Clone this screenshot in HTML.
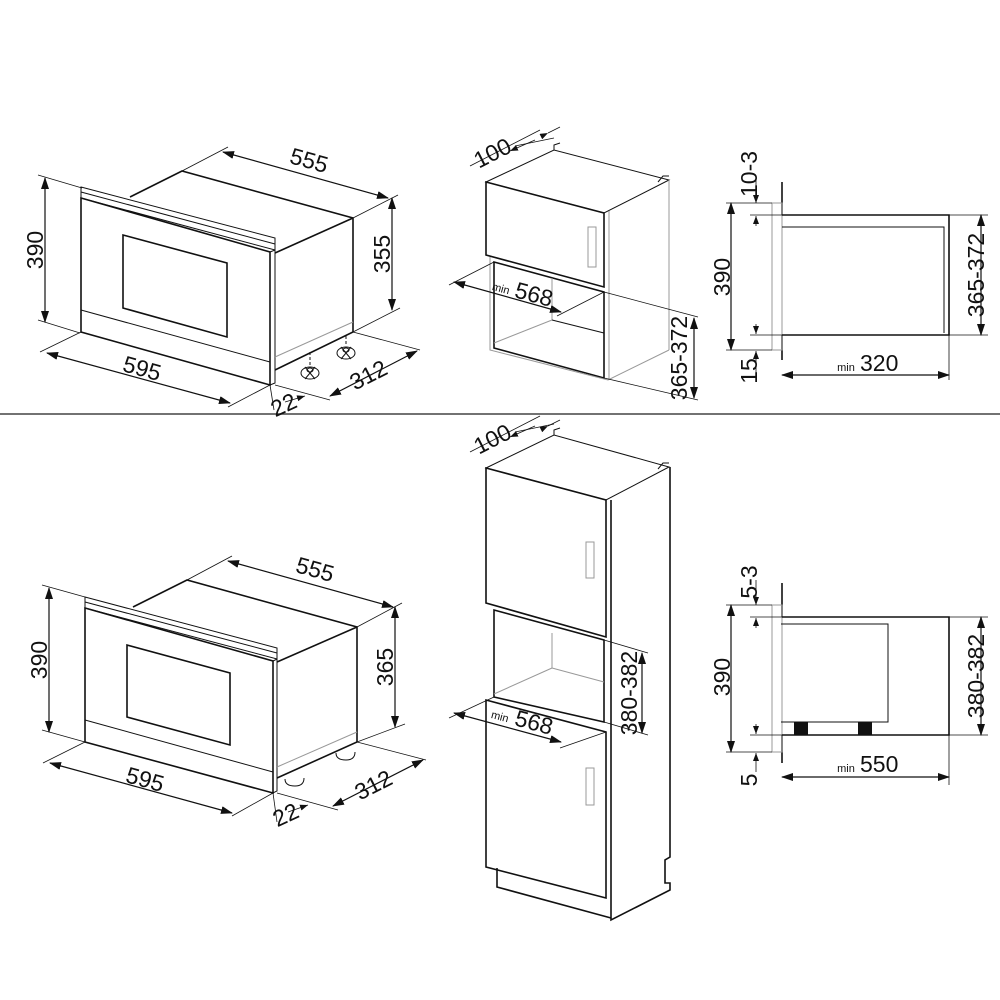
<!DOCTYPE html>
<html><head><meta charset="utf-8"><style>
html,body{margin:0;padding:0;background:#fff}
svg{display:block}
text{font-family:"Liberation Sans",Arial,sans-serif;fill:#111}
.k{stroke:#111;stroke-width:1.6;fill:none}
.t{stroke:#111;stroke-width:1;fill:none}
.g{stroke:#999;stroke-width:1;fill:none}
.d{stroke:#111;stroke-width:1.2;fill:none;marker-start:url(#a);marker-end:url(#a)}
.e{stroke:#111;stroke-width:0.8;fill:none}
.n{font-size:23px}
.m{font-size:11px}
</style></head><body>
<svg width="1000" height="1000" viewBox="0 0 1000 1000" xmlns="http://www.w3.org/2000/svg">
<defs>
<marker id="a" viewBox="0 0 12 8" refX="11" refY="4" markerWidth="12" markerHeight="8" markerUnits="userSpaceOnUse" orient="auto-start-reverse">
<path d="M0,0 L12,4 L0,8 Z" fill="#111"/>
</marker>
<marker id="s" viewBox="0 0 8 6" refX="8" refY="3" markerWidth="8" markerHeight="6" markerUnits="userSpaceOnUse" orient="auto">
<path d="M0,0 L8,3 L0,6 Z" fill="#111"/>
</marker>
</defs>

<line x1="0" y1="414" x2="1000" y2="414" stroke="#444" stroke-width="1.6"/>

<!-- ===== TOP OVEN ===== -->
<polygon points="81,187 275,238 275,250 81,198" fill="#ddd" class="t"/>
<line x1="81" y1="192" x2="275" y2="244" class="t"/>
<polygon points="81,198 270,252 270,385 81,332" class="k"/>
<polygon points="270,252 275,250 275,383 270,385" class="t"/>
<line x1="81" y1="310" x2="270" y2="362" class="t"/>
<polygon points="123,235 227,263 227,337 123,308" class="k"/>
<polyline points="130,197 182,171 353,218 353,332 275,370" class="k"/>
<line x1="275" y1="253" x2="353" y2="218" class="k"/>
<line x1="275" y1="357" x2="353" y2="322" class="g"/>
<g class="t">
<line x1="310" y1="352" x2="310" y2="366" stroke-dasharray="3,2"/>
<ellipse cx="310" cy="373" rx="9" ry="6"/><ellipse cx="310" cy="370" rx="3" ry="2"/>
<path d="M305,379 L315,367 M305,367 L315,379"/>
<line x1="346" y1="336" x2="346" y2="346" stroke-dasharray="3,2"/>
<ellipse cx="346" cy="353" rx="9" ry="6"/><ellipse cx="346" cy="350" rx="3" ry="2"/>
<path d="M341,359 L351,347 M341,347 L351,359"/>
</g>
<line x1="182" y1="171" x2="228" y2="147" class="e"/>
<line x1="353" y1="218" x2="398" y2="195" class="e"/>
<line x1="223" y1="152" x2="388" y2="198" class="d"/>
<text class="n" transform="translate(307,168) rotate(15.5)" text-anchor="middle">555</text>
<line x1="38" y1="175" x2="82" y2="188" class="e"/>
<line x1="38" y1="320" x2="80" y2="333" class="e"/>
<line x1="45" y1="178" x2="45" y2="322" class="d"/>
<text class="n" transform="translate(43,250) rotate(-90)" text-anchor="middle">390</text>
<line x1="353" y1="332" x2="400" y2="308" class="e"/>
<line x1="392" y1="198" x2="392" y2="310" class="d"/>
<text class="n" transform="translate(390,254) rotate(-90)" text-anchor="middle">355</text>
<line x1="81" y1="332" x2="40" y2="352" class="e"/>
<line x1="270" y1="385" x2="228" y2="407" class="e"/>
<line x1="47" y1="353" x2="230" y2="403" class="d"/>
<text class="n" transform="translate(140,376) rotate(15.5)" text-anchor="middle">595</text>
<line x1="353" y1="332" x2="420" y2="350" class="e"/>
<line x1="275" y1="385" x2="330" y2="400" class="e"/>
<line x1="330" y1="396" x2="417" y2="351" class="d"/>
<text class="n" transform="translate(372,382) rotate(-27)" text-anchor="middle">312</text>
<line x1="270" y1="385" x2="274" y2="410" class="e"/>
<line x1="285" y1="402" x2="305" y2="396" class="e" marker-end="url(#s)"/>
<text class="n" transform="translate(287,412) rotate(-25)" text-anchor="middle">22</text>

<!-- ===== TOP CABINET ===== -->
<polygon points="486,182 554,150 669,180 604,213" class="t"/>
<polyline points="554,150 554,145 560,143" class="t"/>
<polyline points="658,182 663,176 669,176" class="t"/>
<polygon points="486,182 604,213 604,287 486,255" class="k"/>
<line x1="669" y1="180" x2="669" y2="350" class="g"/>
<line x1="609" y1="211" x2="609" y2="380" class="g"/>
<rect x="588" y="227" width="8" height="40" class="g"/>
<polygon points="494,262 604,292 604,378 494,348" class="k"/>
<line x1="552" y1="278" x2="552" y2="320" class="g"/>
<line x1="552" y1="320" x2="604" y2="333" class="t"/>
<line x1="552" y1="320" x2="494" y2="343" class="g"/>
<polyline points="490,257 490,350 608,380 669,350" class="g"/>
<line x1="470" y1="166" x2="540" y2="130" class="e"/>
<line x1="515" y1="146" x2="554" y2="138" class="e"/>
<line x1="535" y1="140" x2="510" y2="151" class="e" marker-end="url(#s)"/>
<line x1="548" y1="133" x2="560" y2="127" class="e" marker-start="url(#s)"/>
<text class="n" transform="translate(496,160) rotate(-27)" text-anchor="middle">100</text>
<line x1="494" y1="262" x2="449" y2="285" class="e"/>
<line x1="604" y1="292" x2="557" y2="316" class="e"/>
<line x1="454" y1="282" x2="561" y2="312" class="d"/>
<text class="m" transform="translate(500,292) rotate(15)" text-anchor="middle">min</text>
<text class="n" transform="translate(532,302) rotate(15)" text-anchor="middle">568</text>
<line x1="604" y1="292" x2="698" y2="317" class="e"/>
<line x1="604" y1="378" x2="698" y2="400" class="e"/>
<line x1="694" y1="318" x2="694" y2="398" class="d"/>
<text class="n" transform="translate(687,358) rotate(-90)" text-anchor="middle">365-372</text>

<!-- ===== TOP SIDE VIEW ===== -->
<line x1="782" y1="182" x2="782" y2="215" class="k"/>
<line x1="782" y1="335" x2="782" y2="360" class="k"/>
<rect x="772" y="203" width="10" height="147" class="g"/>
<polyline points="782,215 949,215 949,335 782,335" class="k"/>
<polyline points="782,227 944,227 944,333" class="t"/>
<line x1="726" y1="203" x2="772" y2="203" class="e"/>
<line x1="726" y1="350" x2="772" y2="350" class="e"/>
<line x1="731" y1="203" x2="731" y2="350" class="d"/>
<text class="n" transform="translate(730,277) rotate(-90)" text-anchor="middle">390</text>
<line x1="750" y1="215" x2="782" y2="215" class="e"/>
<line x1="750" y1="335" x2="782" y2="335" class="e"/>
<line x1="756" y1="178" x2="756" y2="203" class="e" marker-end="url(#s)"/>
<line x1="756" y1="226" x2="756" y2="216" class="e" marker-end="url(#s)"/>
<line x1="756" y1="324" x2="756" y2="334" class="e" marker-end="url(#s)"/>
<line x1="756" y1="372" x2="756" y2="351" class="e" marker-end="url(#s)"/>
<text class="n" transform="translate(757,174) rotate(-90)" text-anchor="middle">10-3</text>
<text class="n" transform="translate(757,371) rotate(-90)" text-anchor="middle">15</text>
<line x1="949" y1="215" x2="988" y2="215" class="e"/>
<line x1="949" y1="335" x2="988" y2="335" class="e"/>
<line x1="981" y1="215" x2="981" y2="335" class="d"/>
<text class="n" transform="translate(984,275) rotate(-90)" text-anchor="middle">365-372</text>
<line x1="949" y1="335" x2="949" y2="380" class="e"/>
<line x1="782" y1="375" x2="949" y2="375" class="d"/>
<text class="m" x="846" y="371" text-anchor="middle">min</text>
<text class="n" x="860" y="371">320</text>

<!-- ===== BOTTOM OVEN ===== -->
<polygon points="85,597 277,648 277,659 85,608" fill="#ddd" class="t"/>
<line x1="85" y1="602" x2="277" y2="653" class="t"/>
<polygon points="85,608 273,661 273,793 85,742" class="k"/>
<polygon points="273,661 277,659 277,791 273,793" class="t"/>
<line x1="85" y1="720" x2="273" y2="772" class="t"/>
<polygon points="127,645 230,673 230,745 127,717" class="k"/>
<polyline points="133,607 187,580 357,627 357,742 277,778" class="k"/>
<line x1="277" y1="662" x2="357" y2="627" class="k"/>
<line x1="277" y1="767" x2="357" y2="732" class="g"/>
<path d="M285,779 Q285,786 295,786 Q304,786 304,778" class="t"/>
<path d="M336,753 Q336,760 346,760 Q355,760 355,752" class="t"/>
<line x1="187" y1="580" x2="232" y2="556" class="e"/>
<line x1="357" y1="627" x2="402" y2="603" class="e"/>
<line x1="228" y1="561" x2="393" y2="607" class="d"/>
<text class="n" transform="translate(313,577) rotate(15.5)" text-anchor="middle">555</text>
<line x1="42" y1="585" x2="85" y2="597" class="e"/>
<line x1="42" y1="730" x2="85" y2="742" class="e"/>
<line x1="49" y1="588" x2="49" y2="732" class="d"/>
<text class="n" transform="translate(47,660) rotate(-90)" text-anchor="middle">390</text>
<line x1="357" y1="742" x2="405" y2="724" class="e"/>
<line x1="395" y1="607" x2="395" y2="727" class="d"/>
<text class="n" transform="translate(393,667) rotate(-90)" text-anchor="middle">365</text>
<line x1="85" y1="742" x2="43" y2="763" class="e"/>
<line x1="273" y1="793" x2="232" y2="816" class="e"/>
<line x1="50" y1="763" x2="232" y2="813" class="d"/>
<text class="n" transform="translate(143,787) rotate(15.5)" text-anchor="middle">595</text>
<line x1="357" y1="742" x2="426" y2="760" class="e"/>
<line x1="277" y1="793" x2="338" y2="810" class="e"/>
<line x1="333" y1="806" x2="423" y2="760" class="d"/>
<text class="n" transform="translate(377,792) rotate(-27)" text-anchor="middle">312</text>
<line x1="273" y1="793" x2="277" y2="822" class="e"/>
<line x1="288" y1="812" x2="308" y2="805" class="e" marker-end="url(#s)"/>
<text class="n" transform="translate(289,822) rotate(-25)" text-anchor="middle">22</text>

<!-- ===== TALL CABINET ===== -->
<polygon points="486,468 554,435 669,467 606,500" class="t"/>
<polyline points="554,435 554,430 560,428" class="t"/>
<polyline points="658,469 663,463 669,463" class="t"/>
<polygon points="486,468 606,500 606,637 486,603" class="k"/>
<rect x="586" y="542" width="8" height="36" class="g"/>
<polygon points="494,610 604,640 604,722 494,697" class="k"/>
<line x1="552" y1="633" x2="552" y2="668" class="g"/>
<line x1="552" y1="668" x2="604" y2="682" class="g"/>
<line x1="552" y1="668" x2="494" y2="694" class="g"/>
<polygon points="486,700 606,732 606,898 486,867" class="k"/>
<rect x="586" y="768" width="8" height="37" class="g"/>
<polyline points="497,868 497,887 611,918" class="k"/>
<polyline points="611,500 611,920 670,890 670,883 665,883 665,860 670,857 670,467" class="k"/>
<line x1="470" y1="452" x2="540" y2="416" class="e"/>
<line x1="515" y1="432" x2="554" y2="424" class="e"/>
<line x1="535" y1="426" x2="510" y2="437" class="e" marker-end="url(#s)"/>
<line x1="548" y1="426" x2="560" y2="420" class="e" marker-start="url(#s)"/>
<text class="n" transform="translate(496,446) rotate(-27)" text-anchor="middle">100</text>
<line x1="494" y1="697" x2="449" y2="718" class="e"/>
<line x1="606" y1="732" x2="560" y2="748" class="e"/>
<line x1="454" y1="713" x2="561" y2="742" class="d"/>
<text class="m" transform="translate(499,720) rotate(15)" text-anchor="middle">min</text>
<text class="n" transform="translate(532,730) rotate(15)" text-anchor="middle">568</text>
<line x1="604" y1="640" x2="648" y2="653" class="e"/>
<line x1="604" y1="722" x2="648" y2="735" class="e"/>
<line x1="642" y1="653" x2="642" y2="733" class="d"/>
<text class="n" transform="translate(637,693) rotate(-90)" text-anchor="middle">380-382</text>

<!-- ===== BOTTOM SIDE VIEW ===== -->
<line x1="782" y1="583" x2="782" y2="617" class="k"/>
<line x1="782" y1="735" x2="782" y2="763" class="k"/>
<rect x="772" y="605" width="10" height="147" class="g"/>
<polyline points="782,617 949,617 949,735 782,735" class="k"/>
<polyline points="781,624 888,624 888,722 781,722" class="t"/>
<rect x="794" y="722" width="14" height="13" fill="#111"/>
<rect x="858" y="722" width="14" height="13" fill="#111"/>
<line x1="726" y1="605" x2="772" y2="605" class="e"/>
<line x1="726" y1="752" x2="772" y2="752" class="e"/>
<line x1="731" y1="605" x2="731" y2="752" class="d"/>
<text class="n" transform="translate(730,677) rotate(-90)" text-anchor="middle">390</text>
<line x1="750" y1="617" x2="782" y2="617" class="e"/>
<line x1="750" y1="735" x2="782" y2="735" class="e"/>
<line x1="756" y1="580" x2="756" y2="605" class="e" marker-end="url(#s)"/>
<line x1="756" y1="628" x2="756" y2="618" class="e" marker-end="url(#s)"/>
<line x1="756" y1="724" x2="756" y2="734" class="e" marker-end="url(#s)"/>
<line x1="756" y1="772" x2="756" y2="753" class="e" marker-end="url(#s)"/>
<text class="n" transform="translate(757,582) rotate(-90)" text-anchor="middle">5-3</text>
<text class="n" transform="translate(757,780) rotate(-90)" text-anchor="middle">5</text>
<line x1="949" y1="617" x2="988" y2="617" class="e"/>
<line x1="949" y1="735" x2="988" y2="735" class="e"/>
<line x1="981" y1="617" x2="981" y2="735" class="d"/>
<text class="n" transform="translate(984,676) rotate(-90)" text-anchor="middle">380-382</text>
<line x1="949" y1="735" x2="949" y2="785" class="e"/>
<line x1="782" y1="777" x2="949" y2="777" class="d"/>
<text class="m" x="846" y="772" text-anchor="middle">min</text>
<text class="n" x="860" y="772">550</text>
</svg>
</body></html>
